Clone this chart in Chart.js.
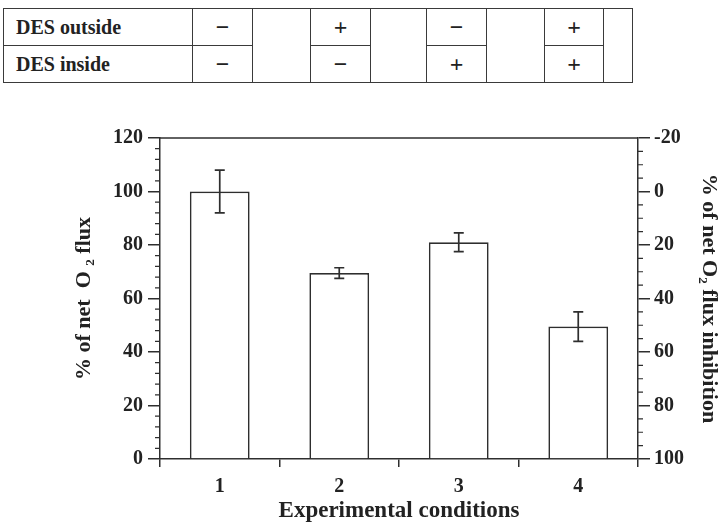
<!DOCTYPE html>
<html>
<head>
<meta charset="utf-8">
<script src="https://cdn.jsdelivr.net/npm/chart.js@4.4.1/dist/chart.umd.min.js"></script>
<style>
  html, body { margin: 0; padding: 0; background: #ffffff; }
  #wrap { position: relative; width: 722px; height: 525px; overflow: hidden; }
  #c { position: absolute; left: 0; top: 0; }
  #des { position: absolute; left: 3px; top: 8px; border-collapse: collapse; table-layout: fixed;
         font-family: "Liberation Serif", "Times New Roman", serif; font-weight: bold; font-size: 24px; color: #222; }
  #des td { border: 1.5px solid #3a3a3a; padding: 0; height: 36px; text-align: center; line-height: 1; }
  #des td.lab { text-align: left; padding-left: 12px; font-size: 20px; }
</style>
</head>
<body>
<div id="wrap">
  <table id="des"></table>
  <canvas id="c" width="722" height="525"></canvas>
</div>
<script>
// ---- data ----
const categories = ['1', '2', '3', '4'];
const fluxValues = [100, 69.5, 81, 49.5];
const fluxErrors = [8, 2, 3.5, 5.5];
const rowLabels = ['DES outside', 'DES inside'];
const desOutside = ['\u2212', '+', '\u2212', '+'];
const desInside = ['\u2212', '\u2212', '+', '+'];
const leftTickRange = [0, 120, 20];     // min, max, step
const rightTickRange = [-20, 100, 20];  // min, max, step (reversed)

// ---- table of conditions ----
(function buildTable() {
  const colW = [189, 60, 58, 60, 56, 60, 58, 59, 29];
  const t = document.getElementById('des');
  const cg = document.createElement('colgroup');
  colW.forEach(w => { const c = document.createElement('col'); c.style.width = w + 'px'; cg.appendChild(c); });
  t.appendChild(cg);
  const rows = [desOutside, desInside];
  rows.forEach((vals, r) => {
    const tr = document.createElement('tr');
    const l = document.createElement('td'); l.className = 'lab'; l.textContent = rowLabels[r]; tr.appendChild(l);
    vals.forEach(v => {
      const td = document.createElement('td'); td.textContent = v; tr.appendChild(td);
      if (r === 0) { const sp = document.createElement('td'); sp.rowSpan = 2; tr.appendChild(sp); }
    });
    t.appendChild(tr);
  });
  t.style.width = colW.reduce((a, b) => a + b, 0) + 'px';
})();

// ---- chart ----
const INK = '#2e2e2e';
const TXT = '#222222';
const FONT = '"Liberation Serif", "Times New Roman", serif';

const extras = {
  id: 'extras',
  afterDraw(chart) {
    const ctx = chart.ctx;
    const a = chart.chartArea;
    const y = chart.scales.y, y2 = chart.scales.y2;
    ctx.save();
    ctx.strokeStyle = INK;
    ctx.lineWidth = 1.5;
    // top frame line
    ctx.beginPath(); ctx.moveTo(a.left, a.top); ctx.lineTo(a.right, a.top); ctx.stroke();
    // minor ticks left (every 4)
    ctx.lineWidth = 1.2;
    ctx.beginPath();
    for (let v = leftTickRange[0]; v <= leftTickRange[1]; v += 4) {
      if (v % leftTickRange[2] === 0) continue;
      const p = y.getPixelForValue(v);
      ctx.moveTo(a.left - 5, p); ctx.lineTo(a.left, p);
    }
    // minor ticks right (every 5)
    for (let v = rightTickRange[0]; v <= rightTickRange[1]; v += 5) {
      if (v % rightTickRange[2] === 0) continue;
      const p = y2.getPixelForValue(v);
      ctx.moveTo(a.right, p); ctx.lineTo(a.right + 5, p);
    }
    ctx.stroke();
    ctx.restore();
  },
  afterDatasetsDraw(chart) {
    const ctx = chart.ctx;
    const y = chart.scales.y;
    const meta = chart.getDatasetMeta(0);
    ctx.save();
    ctx.strokeStyle = INK;
    ctx.lineWidth = 1.7;
    meta.data.forEach((bar, i) => {
      const v = fluxValues[i], e = fluxErrors[i];
      const x = bar.x;
      const yt = y.getPixelForValue(v + e), yb = y.getPixelForValue(v - e);
      ctx.beginPath();
      ctx.moveTo(x, yt); ctx.lineTo(x, yb);
      ctx.moveTo(x - 5, yt); ctx.lineTo(x + 5, yt);
      ctx.moveTo(x - 5, yb); ctx.lineTo(x + 5, yb);
      ctx.stroke();
    });
    ctx.restore();
  }
};

new Chart(document.getElementById('c'), {
  type: 'bar',
  data: {
    labels: categories,
    datasets: [{
      data: fluxValues,
      backgroundColor: '#ffffff',
      borderColor: INK,
      borderWidth: 1.7,
      barPercentage: 0.5,
      categoryPercentage: 1.0,
      yAxisID: 'y'
    }]
  },
  options: {
    responsive: false,
    animation: false,
    devicePixelRatio: 1,
    layout: { padding: { top: 138, left: 0, right: 0, bottom: 0 } },
    plugins: { legend: { display: false }, tooltip: { enabled: false } },
    scales: {
      x: {
        type: 'category',
        offset: true,
        grid: { display: true, drawOnChartArea: false, offset: true, tickLength: 8, color: INK, lineWidth: 1.5 },
        border: { display: true, color: INK, width: 1.5 },
        ticks: { color: TXT, padding: 8, font: { family: FONT, size: 20, weight: 'bold' } },
        title: { display: true, text: 'Experimental conditions', color: TXT,
                 font: { family: FONT, size: 23, weight: 'bold' }, padding: { top: 0, bottom: 0 } },
        afterFit(s) { s.height = 66; }
      },
      y: {
        position: 'left',
        min: leftTickRange[0], max: leftTickRange[1],
        ticks: { stepSize: leftTickRange[2], color: TXT, padding: 5, font: { family: FONT, size: 20, weight: 'bold' } },
        grid: { display: true, drawOnChartArea: false, tickLength: 12, color: INK, lineWidth: 1.5 },
        border: { display: true, color: INK, width: 1.5 },
        title: { display: true, text: '% of net  O \u2082 flux', color: TXT,
                 font: { family: FONT, size: 22, weight: 'bold' }, padding: { top: 71, bottom: 0 } },
        afterFit(s) { s.width = 160; }
      },
      y2: {
        position: 'right',
        min: rightTickRange[0], max: rightTickRange[1],
        reverse: true,
        ticks: { stepSize: rightTickRange[2], color: TXT, padding: 4, font: { family: FONT, size: 20, weight: 'bold' } },
        grid: { display: true, drawOnChartArea: false, tickLength: 12, color: INK, lineWidth: 1.5 },
        border: { display: true, color: INK, width: 1.5 },
        title: { display: true, text: '% of net O\u2082 flux inhibition', color: TXT,
                 font: { family: FONT, size: 22, weight: 'bold' }, padding: { top: 0, bottom: 0 } },
        afterFit(s) { s.width = 84; }
      }
    }
  },
  plugins: [extras]
});
</script>
</body>
</html>
